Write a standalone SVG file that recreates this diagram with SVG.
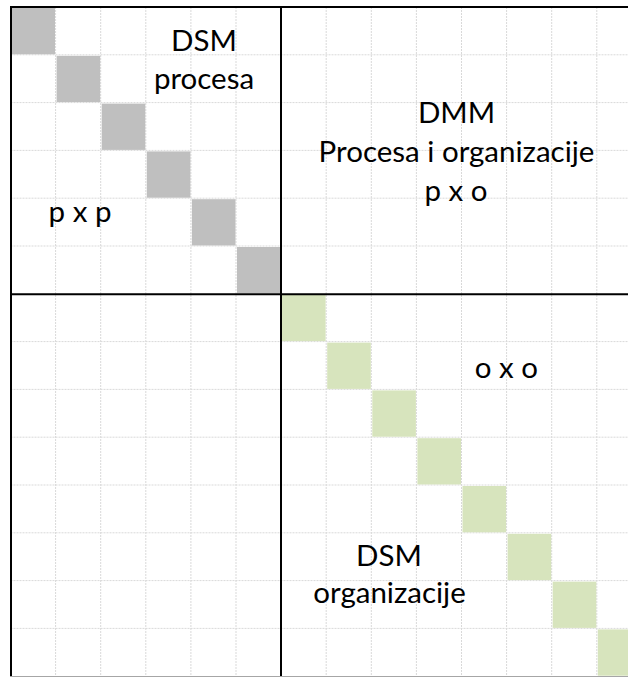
<svg xmlns="http://www.w3.org/2000/svg" width="628" height="677" viewBox="0 0 628 677">
<style>
.grid line{stroke:#d9d9d9;stroke-width:1;stroke-dasharray:2 1}
.g{fill:#bfbfbf}
.gr{fill:#d7e4bd}
.thick{stroke:#000;stroke-width:2;fill:none}
text{font-family:Lato,"Liberation Sans",sans-serif;font-size:29.5px;fill:#000;text-anchor:middle}
</style>
<rect width="628" height="677" fill="#fff"/>
<g id="grid" class="grid">
<line x1="55.6" y1="7" x2="55.6" y2="677"/>
<line x1="100.7" y1="7" x2="100.7" y2="677"/>
<line x1="145.8" y1="7" x2="145.8" y2="677"/>
<line x1="190.9" y1="7" x2="190.9" y2="677"/>
<line x1="236" y1="7" x2="236" y2="677"/>
<line x1="326.2" y1="7" x2="326.2" y2="677"/>
<line x1="371.3" y1="7" x2="371.3" y2="677"/>
<line x1="416.4" y1="7" x2="416.4" y2="677"/>
<line x1="461.5" y1="7" x2="461.5" y2="677"/>
<line x1="506.6" y1="7" x2="506.6" y2="677"/>
<line x1="551.7" y1="7" x2="551.7" y2="677"/>
<line x1="596.8" y1="7" x2="596.8" y2="677"/>
<line x1="10.5" y1="54.8" x2="628" y2="54.8"/>
<line x1="10.5" y1="102.6" x2="628" y2="102.6"/>
<line x1="10.5" y1="150.4" x2="628" y2="150.4"/>
<line x1="10.5" y1="198.2" x2="628" y2="198.2"/>
<line x1="10.5" y1="246" x2="628" y2="246"/>
<line x1="10.5" y1="341.6" x2="628" y2="341.6"/>
<line x1="10.5" y1="389.4" x2="628" y2="389.4"/>
<line x1="10.5" y1="437.2" x2="628" y2="437.2"/>
<line x1="10.5" y1="485" x2="628" y2="485"/>
<line x1="10.5" y1="532.8" x2="628" y2="532.8"/>
<line x1="10.5" y1="580.6" x2="628" y2="580.6"/>
<line x1="10.5" y1="628.4" x2="628" y2="628.4"/>
</g>
<g id="dsm-procesa-cells">
<rect class="g" x="11" y="7.5" width="44" height="46.8"/>
<rect class="g" x="56.6" y="55.8" width="43.6" height="46.3"/>
<rect class="g" x="101.7" y="103.6" width="43.6" height="46.3"/>
<rect class="g" x="146.8" y="151.4" width="43.6" height="46.3"/>
<rect class="g" x="191.9" y="199.2" width="43.6" height="46.3"/>
<rect class="g" x="237" y="247" width="43.6" height="46.3"/>
</g>
<g id="dsm-organizacije-cells">
<rect class="gr" x="282" y="295" width="43.6" height="46.1"/>
<rect class="gr" x="327.2" y="342.6" width="43.6" height="46.3"/>
<rect class="gr" x="372.3" y="390.4" width="43.6" height="46.3"/>
<rect class="gr" x="417.4" y="438.2" width="43.6" height="46.3"/>
<rect class="gr" x="462.5" y="486" width="43.6" height="46.3"/>
<rect class="gr" x="507.6" y="533.8" width="43.6" height="46.3"/>
<rect class="gr" x="552.7" y="581.6" width="43.6" height="46.3"/>
<rect class="gr" x="597.8" y="629.4" width="43.6" height="46.3"/>
</g>
<g id="borders">
<line class="thick" x1="10" y1="7" x2="628" y2="7"/>
<line class="thick" x1="11" y1="6" x2="11" y2="677"/>
<line class="thick" x1="281" y1="6" x2="281" y2="677"/>
<line class="thick" x1="10" y1="294.3" x2="628" y2="294.3"/>
<line x1="10" y1="676.5" x2="628" y2="676.5" stroke="#a6a6a6" stroke-width="1"/>
</g>
<g id="labels">
<text x="204" y="51">DSM</text>
<text x="204" y="89">procesa</text>
<text x="80" y="222">p x p</text>
<text x="456.5" y="123.3">DMM</text>
<text x="456.5" y="161.7">Procesa i organizacije</text>
<text x="456" y="201">p x o</text>
<text x="506.3" y="378.3">o x o</text>
<text x="389" y="566">DSM</text>
<text x="389.5" y="603.3">organizacije</text>
</g>
</svg>
